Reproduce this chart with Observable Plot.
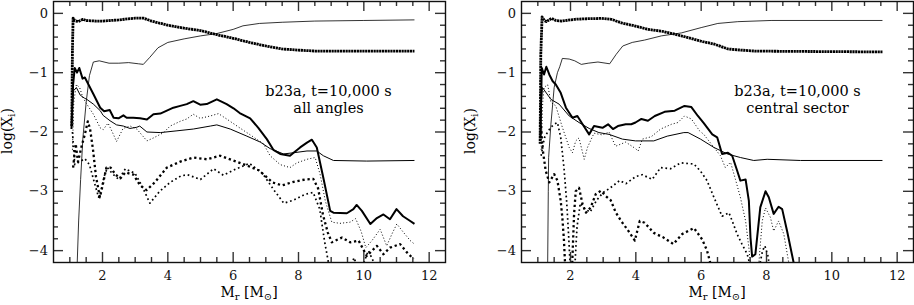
<!DOCTYPE html>
<html><head><meta charset="utf-8">
<script src="https://cdn.jsdelivr.net/npm/d3@7"></script>
<script src="https://cdn.jsdelivr.net/npm/@observablehq/plot@0.6"></script>
<style>
html,body{margin:0;padding:0;background:#fff;}
#row{display:flex;width:914px;height:305px;}
</style></head><body><div id="row"></div>
<script>
// ---------- tick values ----------
const xMajor = [2, 4, 6, 8, 10, 12];
const xMinor = [1, 1.5, 2.5, 3, 3.5, 4.5, 5, 5.5, 6.5, 7, 7.5, 8.5, 9, 9.5, 10.5, 11, 11.5];
const yMajor = [0, -1, -2, -3, -4];
const yMinor = [-0.2, -0.4, -0.6, -0.8, -1.2, -1.4, -1.6, -1.8, -2.2, -2.4, -2.6, -2.8, -3.2, -3.4, -3.6, -3.8];

// ---------- annotations ----------
const noteLeft = "b23a, t=10,000 s\nall angles";
const noteRight = "b23a, t=10,000 s\ncentral sector";

// ---------- left panel: all angles ----------
const leftA = [[1.06,-1.9],[1.08,-0.6],[1.1,-0.08],[1.15,-0.12],[1.25,-0.14],[1.4,-0.1],[1.5,-0.12],[1.8,-0.13],[2.0,-0.13],[2.5,-0.11],[3.0,-0.08],[3.25,-0.08],[3.5,-0.13],[4.0,-0.2],[4.5,-0.25],[5.0,-0.29],[5.5,-0.36],[6.0,-0.42],[6.5,-0.49],[7.0,-0.55],[7.5,-0.6],[8.0,-0.62],[8.5,-0.635],[9.5,-0.635],[10.5,-0.635],[11.55,-0.635]];
const leftB = [[1.22,-4.3],[1.27,-3.5],[1.33,-2.8],[1.4,-2.1],[1.5,-1.5],[1.6,-1.05],[1.72,-0.82],[1.9,-0.8],[2.2,-0.84],[2.5,-0.84],[2.8,-0.83],[3.1,-0.85],[3.25,-0.86],[3.45,-0.74],[3.7,-0.58],[4.0,-0.49],[4.5,-0.43],[5.0,-0.38],[5.5,-0.34],[6.0,-0.27],[6.3,-0.21],[6.8,-0.17],[7.5,-0.15],[8.5,-0.13],[10,-0.12],[11.55,-0.11]];
const leftC = [[1.05,-1.95],[1.1,-1.2],[1.15,-0.92],[1.22,-1.0],[1.29,-0.92],[1.39,-1.1],[1.46,-1.08],[1.57,-1.2],[1.72,-1.36],[1.93,-1.59],[2.05,-1.65],[2.22,-1.63],[2.34,-1.76],[2.49,-1.77],[2.64,-1.72],[2.74,-1.76],[2.94,-1.76],[3.15,-1.77],[3.36,-1.79],[3.56,-1.7],[3.77,-1.69],[3.97,-1.64],[4.17,-1.59],[4.38,-1.56],[4.58,-1.53],[4.78,-1.48],[4.99,-1.54],[5.19,-1.53],[5.5,-1.45],[5.8,-1.53],[6.01,-1.6],[6.2,-1.68],[6.52,-1.77],[6.77,-1.93],[7.03,-2.12],[7.23,-2.3],[7.44,-2.37],[7.74,-2.4],[7.85,-2.35],[8.05,-2.26],[8.26,-2.18],[8.41,-2.13],[8.56,-2.26],[8.76,-2.77],[8.97,-3.33],[9.07,-3.36],[9.48,-3.37],[9.68,-3.3],[9.78,-3.23],[9.94,-3.33],[10.2,-3.55],[10.4,-3.45],[10.6,-3.39],[10.8,-3.47],[11.0,-3.3],[11.2,-3.42],[11.42,-3.5],[11.55,-3.55]];
const leftD = [[1.08,-2.3],[1.12,-1.5],[1.2,-1.2],[1.3,-1.25],[1.4,-1.42],[1.52,-1.53],[1.72,-1.7],[1.93,-1.93],[2.02,-1.96],[2.17,-1.85],[2.3,-2.0],[2.43,-2.16],[2.63,-1.94],[2.85,-1.9],[3.05,-1.95],[3.36,-2.15],[3.56,-2.1],[3.87,-2.01],[4.07,-1.9],[4.38,-1.82],[4.58,-1.78],[4.78,-1.7],[4.99,-1.77],[5.3,-1.73],[5.55,-1.69],[5.8,-1.78],[6.2,-1.93],[6.5,-2.04],[6.93,-2.2],[7.13,-2.4],[7.44,-2.55],[7.74,-2.6],[7.95,-2.52],[8.26,-2.46],[8.51,-2.43],[8.66,-2.71],[8.82,-3.16],[9.02,-3.52],[9.27,-3.54],[9.58,-3.52],[9.75,-3.46],[9.92,-3.68],[10.06,-3.95],[10.25,-3.83],[10.5,-3.64],[10.7,-3.92],[10.86,-3.72],[11.01,-3.55],[11.21,-3.69],[11.42,-3.83],[11.55,-3.89]];
const leftE = [[1.07,-1.6],[1.12,-1.3],[1.2,-1.25],[1.32,-1.38],[1.45,-1.43],[1.52,-1.45],[1.72,-1.53],[1.93,-1.64],[2.02,-1.72],[2.23,-1.81],[2.43,-1.88],[2.64,-1.9],[2.84,-1.94],[3.05,-1.92],[3.14,-1.9],[3.36,-2.0],[3.77,-2.01],[4.28,-1.98],[4.78,-1.95],[5.3,-1.9],[5.5,-1.88],[5.91,-1.95],[6.42,-2.07],[6.83,-2.17],[7.13,-2.28],[7.54,-2.37],[7.85,-2.35],[8.26,-2.32],[8.56,-2.32],[8.76,-2.4],[9.07,-2.48],[10.09,-2.49],[11.55,-2.48]];
const leftF = [[1.1,-2.6],[1.18,-2.2],[1.25,-2.5],[1.36,-2.24],[1.46,-2.04],[1.55,-1.82],[1.62,-1.95],[1.71,-2.3],[1.8,-2.75],[1.92,-3.1],[2.02,-2.86],[2.12,-2.6],[2.25,-2.6],[2.4,-2.72],[2.55,-2.78],[2.7,-2.68],[2.95,-2.72],[3.15,-2.9],[3.35,-2.98],[3.6,-2.85],[3.97,-2.6],[4.38,-2.5],[4.78,-2.43],[5.19,-2.46],[5.6,-2.4],[6.0,-2.48],[6.4,-2.56],[6.8,-2.65],[7.2,-2.85],[7.5,-2.9],[7.85,-2.84],[8.2,-2.8],[8.45,-2.79],[8.6,-2.95],[8.75,-3.4],[8.9,-3.7],[9.02,-3.86],[9.33,-3.78],[9.58,-3.86],[9.84,-3.83],[10.09,-4.09],[10.4,-3.92],[10.6,-4.06],[10.8,-3.95],[11.11,-3.89],[11.32,-4.03],[11.52,-4.14]];
const leftG = [[1.08,-2.0],[1.15,-2.55],[1.3,-2.5],[1.46,-2.45],[1.6,-2.55],[1.75,-2.85],[1.88,-3.1],[1.95,-3.0],[2.05,-2.75],[2.15,-2.6],[2.3,-2.7],[2.5,-2.8],[2.7,-2.62],[3.0,-2.7],[3.2,-2.9],[3.45,-3.2],[3.75,-3.0],[4.07,-2.85],[4.4,-2.74],[4.6,-2.72],[5.0,-2.8],[5.4,-2.62],[5.7,-2.73],[6.1,-2.62],[6.5,-2.53],[6.9,-2.7],[7.25,-2.98],[7.55,-3.2],[7.85,-3.15],[8.2,-3.05],[8.45,-3.02],[8.65,-3.3],[8.8,-3.85],[8.95,-4.3],[9.3,-4.6],[9.55,-4.35],[9.7,-4.12],[9.85,-4.35],[10.0,-4.2],[10.14,-4.0],[10.35,-4.25],[10.6,-4.5]];

// ---------- right panel: central sector ----------
const rightA = [[1.07,-2.2],[1.09,-0.7],[1.13,-0.06],[1.2,-0.12],[1.26,-0.14],[1.42,-0.085],[1.55,-0.12],[1.72,-0.13],[2.13,-0.1],[2.54,-0.09],[2.95,-0.085],[3.25,-0.1],[3.56,-0.16],[3.96,-0.21],[4.37,-0.27],[4.78,-0.3],[5.19,-0.35],[5.6,-0.41],[6.0,-0.47],[6.41,-0.52],[6.82,-0.6],[7.23,-0.62],[7.63,-0.635],[8.5,-0.64],[10,-0.645],[11.55,-0.65]];
const rightB = [[1.3,-4.3],[1.32,-3.0],[1.33,-2.43],[1.4,-1.87],[1.5,-1.25],[1.6,-1.0],[1.67,-0.9],[1.75,-0.76],[1.96,-0.77],[2.13,-0.8],[2.33,-0.86],[2.54,-0.84],[2.84,-0.82],[3.2,-0.85],[3.4,-0.69],[3.6,-0.55],[3.89,-0.49],[4.27,-0.45],[4.78,-0.38],[5.39,-0.33],[6.0,-0.24],[6.51,-0.17],[7.12,-0.14],[8.14,-0.12],[11.55,-0.12]];
const rightC = [[1.08,-2.1],[1.12,-0.92],[1.19,-1.03],[1.26,-0.9],[1.35,-1.03],[1.45,-1.14],[1.55,-1.2],[1.7,-1.34],[1.86,-1.59],[2.06,-1.76],[2.21,-1.73],[2.37,-1.87],[2.57,-2.04],[2.72,-1.9],[2.98,-1.93],[3.15,-1.87],[3.3,-1.95],[3.45,-1.9],[3.69,-1.87],[3.86,-1.87],[3.99,-1.84],[4.17,-1.78],[4.37,-1.81],[4.58,-1.73],[4.88,-1.66],[5.19,-1.64],[5.49,-1.56],[5.7,-1.58],[5.9,-1.73],[6.08,-1.85],[6.34,-2.04],[6.49,-2.09],[6.64,-2.37],[6.82,-2.35],[6.95,-2.4],[7.1,-2.65],[7.2,-2.82],[7.36,-2.8],[7.46,-3.16],[7.51,-3.78],[7.56,-4.1],[7.66,-4.06],[7.81,-3.27],[7.97,-3.0],[8.07,-3.1],[8.22,-3.38],[8.37,-3.26],[8.48,-3.3],[8.63,-3.67],[8.83,-4.2],[8.95,-4.6]];
const rightD = [[1.1,-2.3],[1.15,-1.5],[1.19,-1.25],[1.3,-1.2],[1.4,-1.5],[1.55,-1.56],[1.75,-1.92],[1.96,-2.26],[2.06,-2.35],[2.16,-2.15],[2.26,-2.1],[2.42,-2.46],[2.52,-2.26],[2.72,-2.02],[2.98,-2.05],[3.18,-2.0],[3.38,-2.24],[3.69,-2.17],[3.99,-2.28],[4.07,-2.32],[4.2,-2.12],[4.47,-2.08],[4.76,-1.95],[5.09,-1.87],[5.29,-1.84],[5.49,-1.73],[5.7,-1.78],[5.95,-1.98],[6.08,-2.04],[6.39,-2.26],[6.59,-2.4],[6.74,-2.6],[6.9,-2.51],[7.05,-2.8],[7.2,-3.1],[7.36,-3.5],[7.46,-3.95],[7.51,-4.25],[7.65,-4.6],[7.76,-4.25],[7.87,-3.5],[7.97,-3.28],[8.12,-3.44],[8.22,-3.67],[8.37,-3.5],[8.53,-3.72],[8.68,-4.2],[8.8,-4.6]];
const rightE = [[1.1,-1.6],[1.14,-1.25],[1.4,-1.45],[1.65,-1.53],[1.96,-1.73],[2.26,-1.84],[2.57,-1.94],[2.87,-2.01],[3.18,-2.04],[3.59,-2.12],[3.99,-2.15],[4.55,-2.15],[4.96,-2.07],[5.47,-2.01],[5.6,-2.01],[5.98,-2.12],[6.39,-2.26],[6.8,-2.37],[7.2,-2.43],[7.61,-2.48],[8.02,-2.46],[9.04,-2.48],[11.55,-2.48]];
const rightF = [[1.1,-1.9],[1.14,-2.26],[1.24,-2.65],[1.35,-2.85],[1.5,-2.71],[1.6,-2.82],[1.7,-3.16],[1.75,-3.44],[1.8,-3.83],[1.84,-4.3],[1.95,-4.6],[2.04,-4.4],[2.11,-3.38],[2.16,-3.0],[2.26,-2.94],[2.37,-3.22],[2.47,-3.36],[2.62,-3.27],[2.77,-3.05],[2.93,-2.99],[3.08,-3.08],[3.23,-3.15],[3.38,-3.35],[3.55,-3.5],[3.75,-3.65],[3.97,-3.83],[4.12,-3.5],[4.27,-3.53],[4.55,-3.7],[4.85,-3.78],[5.15,-3.89],[5.42,-3.72],[5.78,-3.62],[6.03,-3.81],[6.18,-4.0],[6.3,-4.25],[6.5,-4.6]];
const rightG = [[1.1,-2.4],[1.2,-2.1],[1.3,-2.0],[1.4,-1.92],[1.5,-1.87],[1.6,-1.84],[1.7,-2.09],[1.8,-2.6],[1.88,-3.16],[1.94,-3.72],[1.99,-4.25],[2.1,-4.6],[2.2,-3.6],[2.3,-3.2],[2.45,-3.3],[2.6,-3.35],[2.8,-3.15],[3.0,-3.02],[3.2,-2.95],[3.5,-2.82],[3.7,-2.87],[4.0,-2.75],[4.2,-2.72],[4.5,-2.8],[4.76,-2.6],[5.06,-2.62],[5.37,-2.52],[5.78,-2.54],[5.98,-2.66],[6.18,-2.82],[6.39,-3.1],[6.64,-3.42],[6.85,-3.36],[6.95,-3.5],[7.1,-3.72],[7.25,-3.89],[7.41,-4.06],[7.5,-4.25],[7.7,-4.5],[7.88,-4.0],[7.95,-3.92],[8.05,-4.1],[8.12,-4.4]];

// ---------- styles ----------
const lineStyles = [
  {strokeWidth: 2.8, strokeDasharray: "2.2,0.6"},  // A heavy beaded
  {strokeWidth: 0.8},                              // B thin solid
  {strokeWidth: 2},                                // C thick solid
  {strokeWidth: 1, strokeDasharray: "1,2.2"},      // D thin dotted
  {strokeWidth: 1},                                // E solid
  {strokeWidth: 2.3, strokeDasharray: "2.3,2.8"},  // F heavy dotted
  {strokeWidth: 1.7, strokeDasharray: "1.7,2.8"}   // G medium dotted
];

const FONT = "DejaVu Serif";
const W = 457, H = 305, MT = 1, MB = 43;
const MAJOR = 10, MINOR = 5;
const axisColor = "#111";
const fmtY = d => (d < 0 ? "\u2212" : "") + Math.abs(d);

function panel(series, note, opt) {
  const fw = W - opt.marginLeft - opt.marginRight;   // frame width in px
  const fh = H - MT - MB;                             // frame height in px
  const marks = [];
  series.forEach((s, i) => {
    marks.push(Plot.line(s, {x: d => d[0], y: d => d[1], stroke: "#000", strokeLinecap: "butt", strokeLinejoin: "round", clip: true, ...lineStyles[i]}));
  });
  const tk = {stroke: "#333", strokeWidth: 1.4};
  marks.push(
    // inward ticks on all four sides
    Plot.tickX(xMajor, {x: d => d, insetTop: fh - MAJOR, ...tk}),
    Plot.tickX(xMajor, {x: d => d, insetBottom: fh - MAJOR, ...tk}),
    Plot.tickX(xMinor, {x: d => d, insetTop: fh - MINOR, ...tk}),
    Plot.tickX(xMinor, {x: d => d, insetBottom: fh - MINOR, ...tk}),
    Plot.tickY(yMajor, {y: d => d, insetRight: fw - MAJOR, ...tk}),
    Plot.tickY(yMajor, {y: d => d, insetLeft: fw - MAJOR, ...tk}),
    Plot.tickY(yMinor, {y: d => d, insetRight: fw - MINOR, ...tk}),
    Plot.tickY(yMinor, {y: d => d, insetLeft: fw - MINOR, ...tk}),
    // tick labels
    Plot.axisX(xMajor, {anchor: "bottom", tickSize: 0, tickPadding: 8, color: axisColor, fontSize: 13, label: null}),
    Plot.axisY(yMajor, {anchor: "left", tickSize: 0, tickPadding: 5.5, tickFormat: fmtY, color: axisColor, fontSize: 13, label: null}),
    Plot.frame({stroke: axisColor, strokeWidth: 1.4}),
    Plot.text([note], {text: d => d, frameAnchor: "top-left", dx: opt.noteDx, dy: 82, textAnchor: "middle", lineAnchor: "top", lineHeight: 1.2, fontSize: 14.5, fill: "#000"})
  );
  const svg = Plot.plot({
    width: W, height: H,
    marginLeft: opt.marginLeft, marginRight: opt.marginRight, marginTop: MT, marginBottom: MB,
    x: {domain: [0.5, 12.5]},
    y: {domain: [-4.2, 0.2]},
    style: {fontFamily: FONT, fontSize: "13px", background: "#fff", overflow: "visible", color: "#000"},
    marks
  });
  const s = d3.select(svg);
  const frameMid = opt.marginLeft + fw / 2;
  const yl = s.append("text")
    .attr("transform", `translate(${opt.yLabelX},131) rotate(-90)`)
    .attr("text-anchor", "middle").attr("font-size", 14).attr("font-family", FONT).attr("fill", "#000");
  yl.append("tspan").text("log(X");
  yl.append("tspan").attr("dy", 3).attr("font-size", 10).text("i");
  yl.append("tspan").attr("dy", -3).text(")");
  const xl = s.append("text")
    .attr("x", frameMid).attr("y", 297)
    .attr("text-anchor", "middle").attr("font-size", 14).attr("font-family", FONT).attr("fill", "#000");
  xl.append("tspan").text("M");
  xl.append("tspan").attr("dy", 3).attr("font-size", 10).text("r");
  xl.append("tspan").attr("dy", -3).text(" [M");
  xl.append("tspan").attr("dy", 3).attr("font-size", 10).text("⊙");
  xl.append("tspan").attr("dy", -3).text("]");
  return svg;
}

const row = document.getElementById("row");
row.appendChild(panel([leftA, leftB, leftC, leftD, leftE, leftF, leftG], noteLeft,
  {marginLeft: 53, marginRight: 12, noteDx: 275, yLabelX: 12}));
row.appendChild(panel([rightA, rightB, rightC, rightD, rightE, rightF, rightG], noteRight,
  {marginLeft: 64, marginRight: 1, noteDx: 276, yLabelX: 18}));
</script>
</body></html>
